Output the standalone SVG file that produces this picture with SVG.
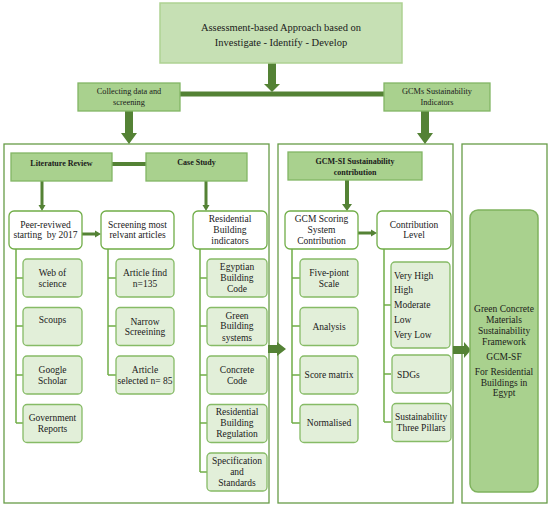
<svg xmlns="http://www.w3.org/2000/svg" width="550" height="508" viewBox="0 0 550 508">
<style>
text{font-family:"Liberation Serif","Times New Roman",serif;fill:#1a1a1a;text-anchor:middle}
.top{fill:#c6e0b4;stroke:#aed293;stroke-width:1.5}
.mid{fill:#a9d18e;stroke:#82b565;stroke-width:1.3}
.cont{fill:none;stroke:#679c47;stroke-width:1.3}
.node{fill:#fff;stroke:#70ad47;stroke-width:1.3}
.leaf{fill:#e2efd9;stroke:#86bb66;stroke-width:1.3}
.fin{fill:#a9d18e;stroke:#7fb35e;stroke-width:1.5}
.arr{fill:#548235}
.tree{fill:none;stroke:#70ad47;stroke-width:1.5}
.t105{font-size:10.5px}
.t85{font-size:8.3px}
.hb{font-size:8px;font-weight:bold}
.t95{font-size:9.5px}
.lv{text-anchor:start;font-size:9.5px}
</style>
<rect width="550" height="508" fill="#fff"/>
<g id="containers">
<rect class="cont" x="4" y="144" width="265" height="359"/>
<rect class="cont" x="278" y="144" width="175" height="359"/>
<rect class="cont" x="462" y="144" width="85" height="359"/>
</g>
<g id="connectors">
<polygon class="arr" points="268,63 276,63 276,84 280,84 272,92 264,84 268,84"/>
<rect class="arr" x="180" y="91.5" width="204" height="5"/>
<polygon class="arr" points="125,111 133,111 133,133 137,133 129,144 121,133 125,133"/>
<polygon class="arr" points="421,111 429,111 429,133 433,133 425,144 417,133 421,133"/>
<polygon class="arr" points="268,345 277,345 277,342 286,349 277,356 277,353 268,353"/>
<polygon class="arr" points="453,346 464,346 464,342 471,350 464,358 464,354 453,354"/>
<rect class="arr" x="112" y="162" width="34" height="4"/>
<polygon class="arr" points="40.5,181 43.5,181 43.5,205 45.5,205 42,211 38.5,205 40.5,205"/>
<polygon class="arr" points="204.5,181 207.5,181 207.5,205 209.5,205 206,211 202.5,205 204.5,205"/>
<polygon class="arr" points="345,180 349,180 349,204 352,204 347,211 342,204 345,204"/>
<polygon class="arr" points="82,232.5 95,232.5 95,230.5 101,234 95,237.5 95,235.5 82,235.5"/>
<polygon class="arr" points="358,231.5 371,231.5 371,229.5 377,233 371,236.5 371,234.5 358,234.5"/>
<path class="tree" d="M16,249V423M16,278H23M16,326H23M16,375H23M16,423H23"/>
<path class="tree" d="M108,249V375M108,278H116M108,326H116M108,375H116"/>
<path class="tree" d="M200,249V472M200,278H207M200,326H207M200,375H207M200,423H207M200,472H207"/>
<path class="tree" d="M292,249V423M292,278H300M292,326H300M292,375H300M292,423H300"/>
<path class="tree" d="M384,249V422M384,305H391M384,374H391M384,422H391"/>
</g>
<g id="n-top"><rect class="top" x="160" y="3" width="242" height="60"/>
<text class="t105" x="281" y="31">Assessment-based Approach based on</text>
<text class="t105" x="281" y="46">Investigate - Identify - Develop</text></g>
<g id="n-collect"><rect class="mid" x="78" y="83" width="102" height="28"/>
<text class="t85" x="129" y="94">Collecting data and</text>
<text class="t85" x="129" y="105">screening</text></g>
<g id="n-gcms"><rect class="mid" x="384" y="83" width="106" height="28"/>
<text class="t85" x="437" y="94">GCMs Sustainability</text>
<text class="t85" x="437" y="105">Indicators</text></g>
<g id="n-lit"><rect class="mid" x="11" y="153" width="101" height="28"/>
<text class="hb" x="61.5" y="166">Literature Review</text></g>
<g id="n-case"><rect class="mid" x="146" y="153" width="101" height="28"/>
<text class="hb" x="196.5" y="165">Case Study</text></g>
<g id="n-gcmsi"><rect class="mid" x="288" y="152" width="134" height="28"/>
<text class="hb" x="355" y="164">GCM-SI Sustainability</text>
<text class="hb" x="355" y="175">contribution</text></g>
<g id="n-peer"><rect class="node" x="9" y="211" width="73" height="38" rx="5"/>
<text class="t95" x="45.5" y="227.5">Peer-reviwed</text>
<text class="t95" x="45.5" y="238" xml:space="preserve">starting  by 2017</text></g>
<g id="n-screen"><rect class="node" x="101" y="211" width="73" height="38" rx="5"/>
<text class="t95" x="137.5" y="227.5">Screening most</text>
<text class="t95" x="137.5" y="238">relvant articles</text></g>
<g id="n-resind"><rect class="node" x="193" y="211" width="74" height="38" rx="5"/>
<text class="t95" x="230" y="222">Residential</text>
<text class="t95" x="230" y="233">Building</text>
<text class="t95" x="230" y="243.5">indicators</text></g>
<g id="n-scoring"><rect class="node" x="285" y="211" width="73" height="38" rx="5"/>
<text class="t95" x="321.5" y="222">GCM Scoring</text>
<text class="t95" x="321.5" y="233">System</text>
<text class="t95" x="321.5" y="243.5">Contribution</text></g>
<g id="n-contrib"><rect class="node" x="377" y="211" width="74" height="38" rx="5"/>
<text class="t95" x="414" y="227.5">Contribution</text>
<text class="t95" x="414" y="238">Level</text></g>
<g id="n-web"><rect class="leaf" x="23" y="259" width="59" height="38" rx="4"/>
<text class="t95" x="52.5" y="275.5">Web of</text><text class="t95" x="52.5" y="286.5">science</text></g>
<g id="n-scoups"><rect class="leaf" x="23" y="307.5" width="59" height="38" rx="4"/>
<text class="t95" x="52.5" y="322.5">Scoups</text></g>
<g id="n-google"><rect class="leaf" x="23" y="356" width="59" height="38" rx="4"/>
<text class="t95" x="52.5" y="372.5">Google</text><text class="t95" x="52.5" y="383.5">Scholar</text></g>
<g id="n-gov"><rect class="leaf" x="23" y="404.5" width="59" height="38" rx="4"/>
<text class="t95" x="52.5" y="420.5">Government</text><text class="t95" x="52.5" y="431.5">Reports</text></g>
<g id="n-find"><rect class="leaf" x="116" y="259" width="58" height="38" rx="4"/>
<text class="t95" x="145" y="276">Article find</text><text class="t95" x="145" y="286.5">n=135</text></g>
<g id="n-narrow"><rect class="leaf" x="116" y="307.5" width="58" height="38" rx="4"/>
<text class="t95" x="145" y="324.5">Narrow</text><text class="t95" x="145" y="335">Screeining</text></g>
<g id="n-selected"><rect class="leaf" x="116" y="356" width="58" height="38" rx="4"/>
<text class="t95" x="145" y="372.5">Article</text><text class="t95" x="145" y="383.5">selected n= 85</text></g>
<g id="n-egypt"><rect class="leaf" x="207" y="259" width="60" height="38" rx="4"/>
<text class="t95" x="237" y="270">Egyptian</text><text class="t95" x="237" y="280.8">Building</text><text class="t95" x="237" y="291.6">Code</text></g>
<g id="n-green"><rect class="leaf" x="207" y="307.5" width="60" height="38" rx="4"/>
<text class="t95" x="237" y="318.5">Green</text><text class="t95" x="237" y="329.3">Building</text><text class="t95" x="237" y="340.5">systems</text></g>
<g id="n-concrete"><rect class="leaf" x="207" y="356" width="60" height="38" rx="4"/>
<text class="t95" x="237" y="372.5">Concrete</text><text class="t95" x="237" y="383.5">Code</text></g>
<g id="n-resreg"><rect class="leaf" x="207" y="404.5" width="60" height="38" rx="4"/>
<text class="t95" x="237" y="415">Residential</text><text class="t95" x="237" y="426">Building</text><text class="t95" x="237" y="437.3">Regulation</text></g>
<g id="n-spec"><rect class="leaf" x="207" y="453" width="60" height="38" rx="4"/>
<text class="t95" x="237" y="464">Specification</text><text class="t95" x="237" y="475">and</text><text class="t95" x="237" y="486">Standards</text></g>
<g id="n-five"><rect class="leaf" x="300" y="259" width="58" height="38" rx="4"/>
<text class="t95" x="329" y="276">Five-piont</text><text class="t95" x="329" y="286.5">Scale</text></g>
<g id="n-analysis"><rect class="leaf" x="300" y="307.5" width="58" height="38" rx="4"/>
<text class="t95" x="329" y="329.5">Analysis</text></g>
<g id="n-score"><rect class="leaf" x="300" y="356" width="58" height="38" rx="4"/>
<text class="t95" x="329" y="378.3">Score matrix</text></g>
<g id="n-norm"><rect class="leaf" x="300" y="404.5" width="58" height="38" rx="4"/>
<text class="t95" x="329" y="426">Normalised</text></g>
<g id="n-levels"><rect class="leaf" x="391" y="262" width="59" height="86" rx="4"/>
<text class="lv" x="394" y="278.5">Very High</text>
<text class="lv" x="394" y="293">High</text>
<text class="lv" x="394" y="307.5">Moderate</text>
<text class="lv" x="394" y="323">Low</text>
<text class="lv" x="394" y="337.5">Very Low</text></g>
<g id="n-sdgs"><rect class="leaf" x="392" y="355" width="59" height="38" rx="4"/>
<text class="lv" x="397" y="378">SDGs</text></g>
<g id="n-pillars"><rect class="leaf" x="392" y="403.5" width="59" height="38" rx="4"/>
<text class="t95" x="421" y="420">Sustainability</text><text class="t95" x="421" y="430.6">Three Pillars</text></g>
<g id="n-final"><rect class="fin" x="470" y="210" width="68" height="282" rx="8"/>
<text class="t95" x="504" y="311.5">Green Concrete</text>
<text class="t95" x="504" y="322.5">Materials</text>
<text class="t95" x="504" y="333.5">Sustainability</text>
<text class="t95" x="504" y="344.5">Framework</text>
<text class="t95" x="504" y="359.5">GCM-SF</text>
<text class="t95" x="504" y="374.5">For Residential</text>
<text class="t95" x="504" y="385.5">Buildings in</text>
<text class="t95" x="504" y="395.5">Egypt</text></g>
</svg>
